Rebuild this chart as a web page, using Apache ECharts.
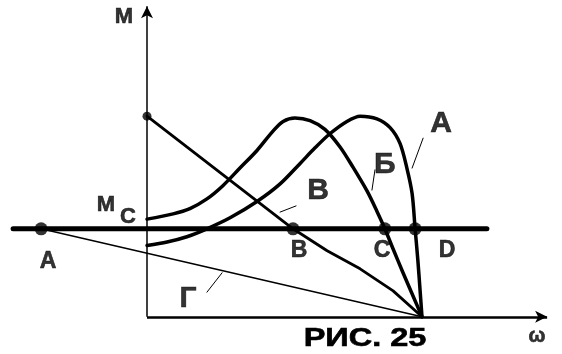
<!DOCTYPE html>
<html><head><meta charset="utf-8">
<script src="https://cdn.jsdelivr.net/npm/echarts@6/dist/echarts.min.js"></script>
<style>html,body{margin:0;padding:0;background:#fff}#c{width:562px;height:354px}</style>
</head><body><div id="c"></div>
<script>
// Curve "A" (right peak) : [omega, M]
const curveA = [[0,0.81],[0.073,0.85],[0.145,0.91],[0.218,1.0],[0.302,1.125],[0.4,1.31],[0.484,1.51],[0.556,1.74],[0.611,1.92],[0.665,2.08],[0.727,2.22],[0.775,2.28],[0.836,2.25],[0.884,2.15],[0.92,1.97],[0.945,1.69],[0.964,1.40],[0.975,1.0],[0.985,0.64],[0.993,0.30],[1,0]];
// Curve "Б" (left peak)
const curveB = [[0,1.11],[0.095,1.17],[0.156,1.23],[0.218,1.34],[0.276,1.49],[0.338,1.69],[0.4,1.89],[0.458,2.11],[0.495,2.22],[0.538,2.26],[0.593,2.23],[0.647,2.13],[0.702,1.93],[0.749,1.70],[0.8,1.43],[0.836,1.2],[0.865,1.0],[0.895,0.77],[0.931,0.5],[0.967,0.24],[1,0]];
// Characteristic "В"
const lineV = [[0,2.28],[0.531,1.0],[0.655,0.75],[0.775,0.545],[0.895,0.295],[1,0]];
// Characteristic "Г"
const lineG = [[-0.385,1],[1,0]];
// Load torque Mc
const mcLine = [[-0.487,1],[1.236,1]];
const mcPoints = [[-0.385,1],[0.531,1],[0.865,1],[0.975,1]];
const topDot = [[0,2.28]];
// Axes extents
const axisX = [[0,0],[1.455,0]];
const axisY = [[0,0],[0,3.53]];
// Leader lines
const leaderA = [[0.964,1.69],[1.004,2.03]];
const leaderB = [[0.818,1.44],[0.829,1.67]];
const leaderV = [[0.484,1.19],[0.542,1.26]];
const leaderG = [[0.218,0.28],[0.273,0.50]];
// Labels
const bigLabelText = ['В','Б','A','Г'];
const bigLabelPos = [[0.622,1.435],[0.865,1.732],[1.069,2.199],[0.149,0.205]];
const ptLabelText = ['A','B','C','D'];
const ptLabelPos = [[-0.36,0.627],[0.553,0.752],[0.855,0.752],[1.091,0.752]];
const axLabelText = ['M','M','C'];
const axLabelPos = [[-0.084,3.406],[-0.149,1.276],[-0.069,1.139]];
const omegaText = ['ω'];
const omegaPos = [[1.418,-0.228]];
const caption = 'РИС. 25';

const chart = echarts.init(document.getElementById('c'), null, {renderer:'canvas'});
const F = '"Liberation Sans", Arial, sans-serif';
function lineSeries(data, width, smooth){
  return {type:'line', data:data, symbol:'none', smooth:smooth||false, clip:false,
    lineStyle:{color:'#000', width:width, cap:'round', join:'round'}, silent:true, z:3};
}
function labelSeries(texts, pos, size){
  return {type:'scatter', clip:false, symbolSize:0, silent:true, z:10,
    data: pos.map((p,i)=>({value:p, label:{formatter:texts[i]}})),
    label:{show:true, position:'inside', color:'#000', fontFamily:F, fontWeight:'bold', fontSize:size,
      textBorderColor:'#000', textBorderWidth:0.6}};
}
function axisSeries(seg, width){
  return {type:'line', data:[], silent:true,
    markLine:{silent:true, symbol:['none','arrow'], symbolSize:[9,12], animation:false,
      label:{show:false}, lineStyle:{color:'#000', width:width, type:'solid'},
      data:[[{coord:seg[0]},{coord:seg[1]}]]}};
}
chart.setOption({
  animation:false,
  backgroundColor:'#fff',
  grid:{left:9.5, right:2.5, top:0, bottom:2},
  xAxis:{type:'value', min:-0.5, max:1.5, show:false},
  yAxis:{type:'value', min:-0.4, max:3.6, show:false},
  graphic:[{type:'text', x:365, y:339, scaleX:1.3,
    style:{text:caption, x:0, y:0, align:'center', verticalAlign:'middle',
      font:'bold 25px "Liberation Sans", Arial, sans-serif', fill:'#000', stroke:'#000', lineWidth:0.6}}],
  series:[
    axisSeries(axisX, 2.5),
    axisSeries(axisY, 1.5),
    lineSeries(mcLine, 5),
    lineSeries(lineG, 1.5),
    lineSeries(lineV, 2.8),
    lineSeries(curveA, 3.5, 0.3),
    lineSeries(curveB, 3.5, 0.3),
    lineSeries(leaderA, 1),
    lineSeries(leaderB, 1),
    lineSeries(leaderV, 1),
    lineSeries(leaderG, 1),
    {type:'scatter', data:mcPoints, symbol:'circle', symbolSize:13, itemStyle:{color:'#000'}, silent:true, z:5, clip:false},
    {type:'scatter', data:topDot, symbol:'circle', symbolSize:9, itemStyle:{color:'#000'}, silent:true, z:5, clip:false},
    labelSeries(bigLabelText, bigLabelPos, 30),
    labelSeries(ptLabelText, ptLabelPos, 23),
    labelSeries(axLabelText, axLabelPos, 22),
    labelSeries(omegaText, omegaPos, 20)
  ]
});
</script></body></html>
